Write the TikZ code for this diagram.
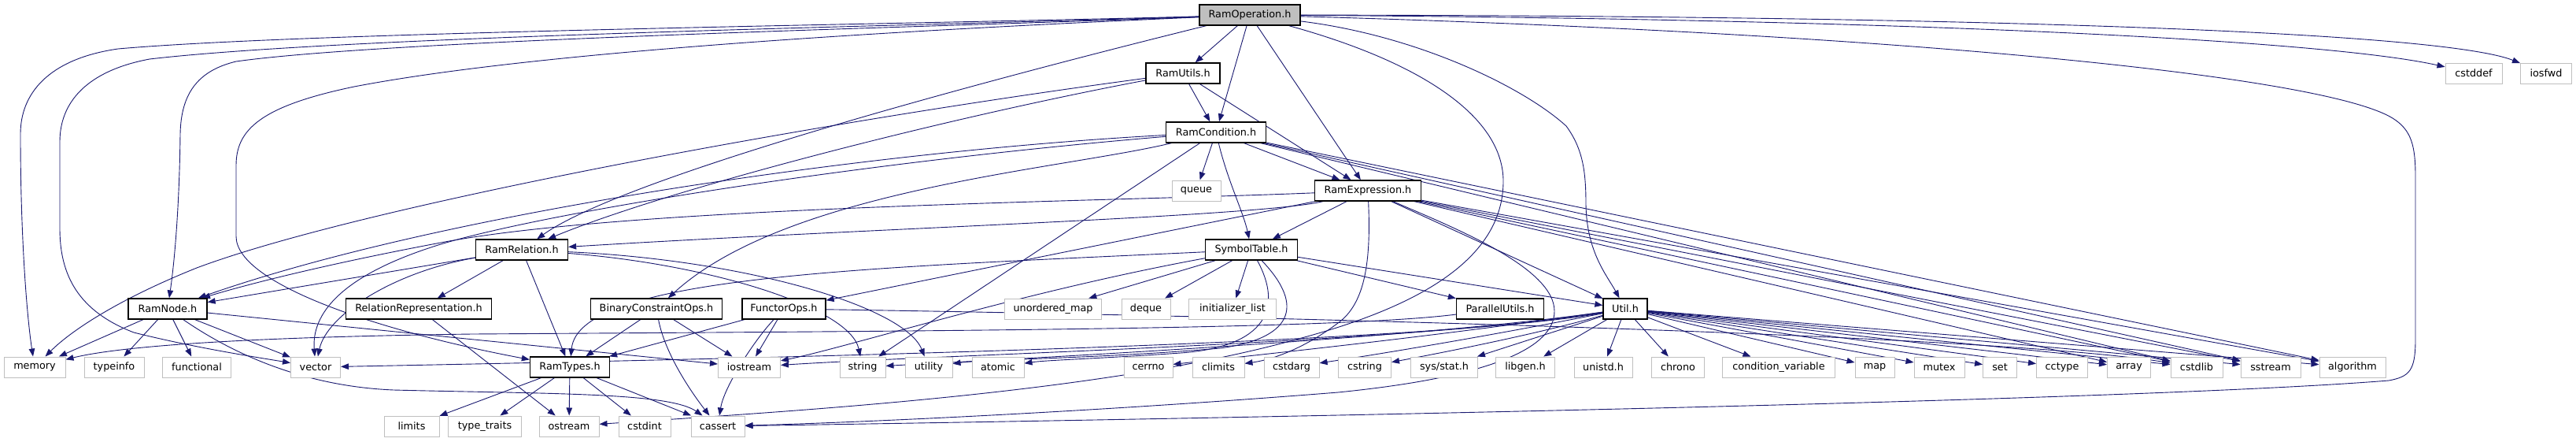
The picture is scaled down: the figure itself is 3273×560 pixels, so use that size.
\documentclass[tikz,border=0pt]{standalone}
\usepackage{fontspec}
\setmainfont{DejaVu Sans}
\usetikzlibrary{arrows.meta}
\pgfdeclarelayer{bg}
\pgfsetlayers{bg,main}
\definecolor{edgec}{RGB}{25,25,112}
\definecolor{grayfill}{RGB}{191,191,191}
\definecolor{lightb}{RGB}{191,191,191}
\begin{document}
\begin{tikzpicture}[x=1pt,y=-1pt,
  box/.style={draw=black,line width=1.3pt,fill=white,minimum height=26pt,inner sep=0pt,font=\fontsize{12.8}{15}\selectfont},
  sys/.style={draw=lightb,line width=1pt,fill=white,minimum height=26pt,inner sep=0pt,font=\fontsize{12.8}{15}\selectfont},
  dep/.style={draw=edgec,line width=0.9pt,-{Triangle[length=10pt,width=7.5pt]}}]
\useasboundingbox (0,0) rectangle (3273,560);
% rank 0-4
\node[box,fill=grayfill,minimum width=128pt] (RO) at (1588,19) {RamOperation.h};
\node[box,minimum width=94pt] (RU) at (1503,93) {RamUtils.h};
\node[sys,minimum width=72pt] (cstddef) at (3143,93) {cstddef};
\node[sys,minimum width=65pt] (iosfwd) at (3235,93) {iosfwd};
\node[box,minimum width=127pt] (RC) at (1545,168) {RamCondition.h};
\node[sys,minimum width=62pt] (queue) at (1520,242) {queue};
\node[box,minimum width=135pt] (RE) at (1738,242) {RamExpression.h};
\node[box,minimum width=117pt] (RR) at (663,317) {RamRelation.h};
\node[box,minimum width=117pt] (ST) at (1590,317) {SymbolTable.h};
% rank 5
\node[box,minimum width=100pt] (RN) at (213,392) {RamNode.h};
\node[box,minimum width=185pt] (RelRep) at (532,392) {RelationRepresentation.h};
\node[box,minimum width=167pt] (BCO) at (834,392) {BinaryConstraintOps.h};
\node[box,minimum width=106pt] (FO) at (996,392) {FunctorOps.h};
\node[sys,minimum width=123pt] (umap) at (1338,392) {unordered\_map};
\node[sys,minimum width=62pt] (deque) at (1456,392) {deque};
\node[sys,minimum width=111pt] (initl) at (1566,392) {initializer\_list};
\node[box,minimum width=111pt] (PU) at (1906,392) {ParallelUtils.h};
\node[box,minimum width=56pt] (Util) at (2065,392) {Util.h};
% rank 6
\node[sys,minimum width=78pt] (memory) at (44,466) {memory};
\node[sys,minimum width=76pt] (typeinfo) at (145,466) {typeinfo};
\node[sys,minimum width=87pt] (functional) at (250,466) {functional};
\node[sys,minimum width=63pt] (vector) at (401,466) {vector};
\node[box,minimum width=101pt] (RT) at (724,466) {RamTypes.h};
\node[sys,minimum width=79pt] (iostream) at (952,466) {iostream};
\node[sys,minimum width=58pt] (string) at (1096,466) {string};
\node[sys,minimum width=60pt] (utility) at (1180,466) {utility};
\node[sys,minimum width=66pt] (atomic) at (1268,466) {atomic};
\node[sys,minimum width=62pt] (cerrno) at (1459,466) {cerrno};
\node[sys,minimum width=66pt] (climits) at (1548,466) {climits};
\node[sys,minimum width=70pt] (cstdarg) at (1641,466) {cstdarg};
\node[sys,minimum width=67pt] (cstring) at (1734,466) {cstring};
\node[sys,minimum width=85pt] (sysstat) at (1835,466) {sys/stat.h};
\node[sys,minimum width=75pt] (libgen) at (1938,466) {libgen.h};
\node[sys,minimum width=74pt] (unistd) at (2037,466) {unistd.h};
\node[sys,minimum width=67pt] (chrono) at (2132,466) {chrono};
\node[sys,minimum width=143pt] (condvar) at (2260,466) {condition\_variable};
\node[sys,minimum width=50pt] (map) at (2382,466) {map};
\node[sys,minimum width=64pt] (mutex) at (2464,466) {mutex};
\node[sys,minimum width=43pt] (set) at (2541,466) {set};
\node[sys,minimum width=65pt] (cctype) at (2620,466) {cctype};
\node[sys,minimum width=55pt] (array) at (2705,466) {array};
\node[sys,minimum width=66pt] (cstdlib) at (2791,466) {cstdlib};
\node[sys,minimum width=76pt] (sstream) at (2885,466) {sstream};
\node[sys,minimum width=84pt] (algorithm) at (2989,466) {algorithm};
% rank 7
\node[sys,minimum width=70pt] (limits) at (523,541) {limits};
\node[sys,minimum width=93pt] (typetraits) at (616,541) {type\_traits};
\node[sys,minimum width=76pt] (ostream) at (723,541) {ostream};
\node[sys,minimum width=66pt] (cstdint) at (819,541) {cstdint};
\node[sys,minimum width=68pt] (cassert) at (912,541) {cassert};

\begin{pgfonlayer}{bg}
\fill[white] (0,0) rectangle (3273,560);
% ---- RamOperation.h
\draw[dep] (RO) -- (RU);
\draw[dep] (RO) -- (RC);
\draw[dep] (RO) -- (RE);
\draw[dep] (RO) .. controls (1300,90) and (800,220) .. (RR);
\draw[dep] (RO) .. controls (1200,30) and (400,40) .. (150,62) .. controls (60,75) and (26,120) .. (26,170) .. controls (26,300) and (34,400) .. (memory);
\draw[dep] (RO) .. controls (1200,32) and (450,45) .. (190,75) .. controls (110,90) and (76,130) .. (76,180) -- (76,290) .. controls (76,350) and (100,395) .. (170,422) .. controls (250,442) and (330,454) .. (vector);
\draw[dep] (RO) .. controls (1200,34) and (500,50) .. (300,78) .. controls (250,90) and (230,120) .. (229,170) .. controls (228,260) and (222,330) .. (RN);
\draw[dep] (RO) .. controls (1200,36) and (700,62) .. (450,110) .. controls (330,135) and (300,165) .. (300,210) -- (300,300) .. controls (300,360) and (480,420) .. (RT);
\draw[dep] (RO) .. controls (2400,24) and (2950,50) .. (cstddef);
\draw[dep] (RO) .. controls (2500,20) and (3100,40) .. (iosfwd);
\draw[dep] (RO) .. controls (2400,42) and (2950,95) .. (3040,150) .. controls (3064,165) and (3069,185) .. (3069,225) -- (3069,430) .. controls (3069,470) and (3062,478) .. (3035,483) .. controls (2700,510) and (1500,532) .. (cassert);
\draw[dep] (RO) .. controls (1800,45) and (1935,110) .. (1990,160) .. controls (2012,190) and (2015,220) .. (2015,260) .. controls (2016,320) and (2042,350) .. (Util);
\draw[dep] (RO) .. controls (1810,80) and (1910,150) .. (1910,230) .. controls (1910,330) and (1800,390) .. (1650,430) .. controls (1400,500) and (1000,522) .. (ostream);
% ---- RamUtils.h
\draw[dep] (RU) -- (RC);
\draw[dep] (RU) -- (RE);
\draw[dep] (RU) .. controls (1200,150) and (850,240) .. (RR);
\draw[dep] (RU) .. controls (1000,160) and (450,265) .. (250,340) .. controls (150,380) and (90,420) .. (memory);
% ---- RamCondition.h
\draw[dep] (RC) -- (RE);
\draw[dep] (RC) -- (queue);
\draw[dep] (RC) .. controls (1560,230) and (1580,270) .. (ST);
\draw[dep] (RC) .. controls (1350,215) and (1000,240) .. (BCO);
\draw[dep] (RC) -- (string);
\draw[dep] (RC) .. controls (1100,192) and (560,270) .. (RN);
\draw[dep] (RC) .. controls (1100,205) and (700,268) .. (560,310) .. controls (430,350) and (396,400) .. (vector);
\draw[dep] (RC) -- (cstdlib);
\draw[dep] (RC) -- (sstream);
\draw[dep] (RC) -- (algorithm);
% ---- RamExpression.h
\draw[dep] (RE) .. controls (1400,256) and (800,262) .. (560,308) .. controls (400,338) and (300,365) .. (RN);
\draw[dep] (RE) .. controls (1600,275) and (1100,290) .. (RR);
\draw[dep] (RE) -- (FO);
\draw[dep] (RE) -- (ST);
\draw[dep] (RE) -- (Util);
\draw[dep] (RE) .. controls (1742,330) and (1735,385) .. (1700,410) .. controls (1660,440) and (1620,456) .. (climits);
\draw[dep] (RE) .. controls (1850,290) and (1975,340) .. (1975,395) .. controls (1975,440) and (1900,478) .. (1700,498) .. controls (1400,522) and (1100,536) .. (cassert);
\draw[dep] (RE) -- (array);
\draw[dep] (RE) -- (cstdlib);
\draw[dep] (RE) -- (sstream);
\draw[dep] (RE) -- (algorithm);
% ---- RamRelation.h
\draw[dep] (RR) -- (RN);
\draw[dep] (RR) -- (RelRep);
\draw[dep] (RR) -- (RT);
\draw[dep] (RR) .. controls (500,345) and (415,400) .. (vector);
\draw[dep] (RR) .. controls (900,335) and (1080,390) .. (string);
\draw[dep] (RR) .. controls (950,330) and (1150,390) .. (utility);
% ---- SymbolTable.h
\draw[dep] (ST) .. controls (1100,340) and (735,350) .. (RT);
\draw[dep] (ST) .. controls (1300,370) and (1080,440) .. (iostream);
\draw[dep] (ST) -- (umap);
\draw[dep] (ST) -- (deque);
\draw[dep] (ST) -- (initl);
\draw[dep] (ST) -- (PU);
\draw[dep] (ST) -- (Util);
\draw[dep] (ST) .. controls (1630,390) and (1610,440) .. (1500,448) .. controls (1400,455) and (1330,457) .. (atomic);
\draw[dep] (ST) .. controls (1660,390) and (1640,430) .. (1550,442) .. controls (1400,455) and (1250,456) .. (utility);
% ---- ParallelUtils.h
\draw[dep] (PU) .. controls (1700,418) and (1200,420) .. (600,424) .. controls (300,428) and (150,440) .. (memory);
% ---- Util.h
\draw[dep] (Util) .. controls (1800,440) and (800,458) .. (vector);
\draw[dep] (Util) .. controls (1800,435) and (1200,450) .. (iostream);
\draw[dep] (Util) .. controls (1800,430) and (1300,455) .. (string);
\draw[dep] (Util) .. controls (1800,430) and (1600,450) .. (cerrno);
\draw[dep] (Util) .. controls (1900,425) and (1750,450) .. (cstdarg);
\draw[dep] (Util) .. controls (1950,425) and (1820,450) .. (cstring);
\draw[dep] (Util) -- (sysstat);
\draw[dep] (Util) -- (libgen);
\draw[dep] (Util) -- (unistd);
\draw[dep] (Util) -- (chrono);
\draw[dep] (Util) -- (condvar);
\draw[dep] (Util) -- (map);
\draw[dep] (Util) -- (mutex);
\draw[dep] (Util) -- (set);
\draw[dep] (Util) -- (cctype);
\draw[dep] (Util) -- (array);
\draw[dep] (Util) -- (cstdlib);
\draw[dep] (Util) -- (sstream);
\draw[dep] (Util) -- (algorithm);
% ---- FunctorOps.h
\draw[dep] (FO) -- (RT);
\draw[dep] (FO) .. controls (960,430) and (920,490) .. (cassert);
\draw[dep] (FO) -- (iostream);
\draw[dep] (FO) .. controls (1400,398) and (2500,420) .. (cstdlib);
% ---- BinaryConstraintOps.h
\draw[dep] (BCO) -- (RT);
\draw[dep] (BCO) .. controls (845,450) and (880,500) .. (cassert);
\draw[dep] (BCO) -- (iostream);
% ---- RamNode.h
\draw[dep] (RN) -- (memory);
\draw[dep] (RN) -- (typeinfo);
\draw[dep] (RN) -- (functional);
\draw[dep] (RN) -- (vector);
\draw[dep] (RN) -- (iostream);
\draw[dep] (RN) .. controls (290,445) and (380,490) .. (500,495) .. controls (700,500) and (850,498) .. (cassert);
% ---- RamTypes.h
\draw[dep] (RT) -- (limits);
\draw[dep] (RT) -- (typetraits);
\draw[dep] (RT) -- (ostream);
\draw[dep] (RT) -- (cstdint);
\draw[dep] (RT) -- (cassert);
% ---- RelationRepresentation.h
\draw[dep] (RelRep) -- (ostream);
\end{pgfonlayer}
\end{tikzpicture}
\end{document}
